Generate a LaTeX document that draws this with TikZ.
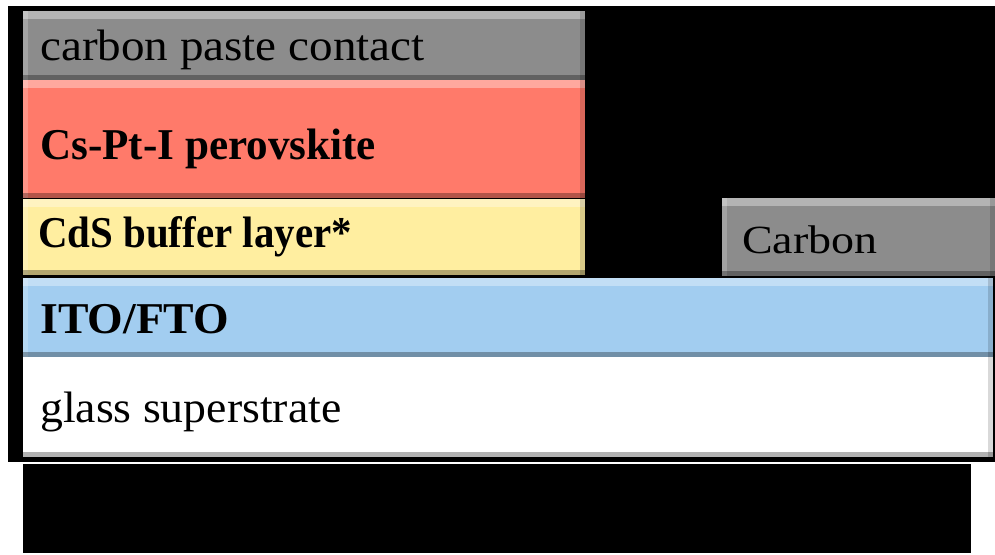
\documentclass[tikz,border=0pt]{standalone}
\usepackage{fontspec}
\setmainfont{Liberation Serif}
\definecolor{cgray}{RGB}{140,140,140}
\definecolor{cred}{RGB}{255,122,106}
\definecolor{cyellow}{RGB}{255,238,160}
\definecolor{cblue}{RGB}{162,205,240}
\tikzset{
  layer/.style={rectangle, anchor=north west, inner sep=0pt, outer sep=0pt,
    path picture={
      \fill[white,opacity=.35] (path picture bounding box.north west) rectangle ([yshift=-8pt]path picture bounding box.north east);
      \fill[white,opacity=.2] (path picture bounding box.north west) rectangle ([xshift=5pt]path picture bounding box.south west);
      \fill[black,opacity=.3] (path picture bounding box.south west) rectangle ([yshift=5pt]path picture bounding box.south east);
      \fill[black,opacity=.15] (path picture bounding box.north east) rectangle ([xshift=-5pt]path picture bounding box.south east);
    }},
  lbl/.style={anchor=base west, inner sep=0pt, font=\fontsize{44}{48}\selectfont, text=black},
  blbl/.style={lbl, font=\fontsize{44}{48}\selectfont\bfseries}
}
\begin{document}
\begin{tikzpicture}[x=1pt,y=-1pt]
\useasboundingbox (0,0) rectangle (995,554);
\fill[white] (0,0) rectangle (995,554);
\fill[black] (8,6) rectangle (995,462);
\fill[black] (23,464) rectangle (971,553);
\node[layer, fill=cgray, minimum width=562pt, minimum height=69pt] (paste) at (23,11) {};
\node[layer, fill=cred, minimum width=562pt, minimum height=118pt] (perov) at (23,80) {};
\node[layer, fill=cyellow, minimum width=562pt, minimum height=76pt] (cds) at (23,199) {};
\node[layer, fill=cgray, minimum width=273pt, minimum height=78pt] (carbon) at (722,198) {};
\node[layer, fill=cblue, minimum width=970pt, minimum height=79pt] (ito) at (23,278) {};
\node[layer, fill=white, minimum width=970pt, minimum height=100pt] (glass) at (23,357) {};
\node[lbl] (tpaste) at (40,60) {\scalebox{1.07}[1]{carbon paste contact}};
\node[blbl] (tperov) at (40,159) {\scalebox{0.98}[1]{Cs-Pt-I perovskite}};
\node[blbl] (tcds) at (38,247) {\scalebox{0.93}[1]{CdS buffer layer*}};
\node[lbl, font=\fontsize{40}{44}\selectfont] (tcarbon) at (742,253) {\scalebox{1.15}[1]{Carbon}};
\node[blbl] (tito) at (40,333) {\scalebox{1.04}[1]{ITO/FTO}};
\node[lbl] (tglass) at (40,422) {\scalebox{1.04}[1]{glass superstrate}};
\end{tikzpicture}
\end{document}
